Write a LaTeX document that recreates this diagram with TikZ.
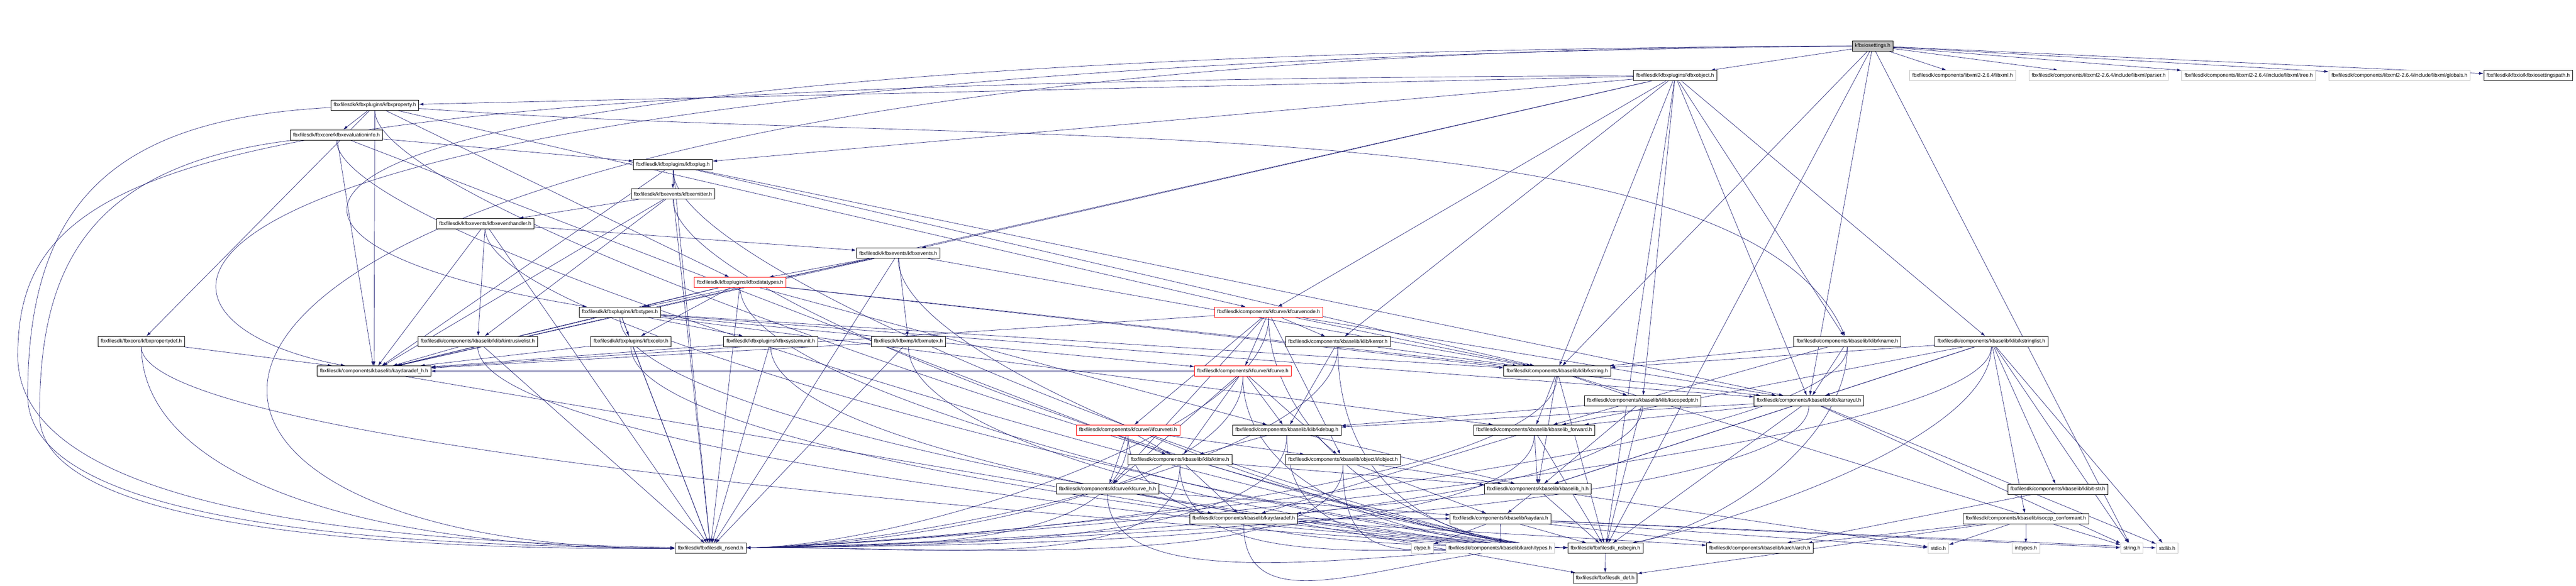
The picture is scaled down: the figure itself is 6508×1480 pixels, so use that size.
\documentclass[tikz,border=0pt]{standalone}
\usepackage{fontspec}
\setmainfont{Liberation Sans}
\usetikzlibrary{arrows.meta, backgrounds}
\definecolor{edgeblue}{HTML}{191970}
\definecolor{nodegray}{HTML}{BFBFBF}

\begin{document}
\begin{tikzpicture}[x=1pt, y=-1pt,
	hdr/.style={draw, rectangle, fill=white, line width=1pt, minimum height=26pt,
		inner xsep=7pt, inner ysep=0pt, font=\fontsize{13}{15}\selectfont},
	trunc/.style={hdr, draw=red},
	sysfile/.style={hdr, draw=nodegray},
	mainfile/.style={hdr, fill=nodegray},
	incl/.style={->, >={Latex[length=11pt,width=7pt]}, color=edgeblue, line width=0.9pt}]

	\path[use as bounding box] (0,0) rectangle (6508,1480);

	% top rows
	\node[mainfile] (settings) at (4731,116) {kfbxiosettings.h};
	\node[hdr] (object)   at (4232,191) {fbxfilesdk/kfbxplugins/kfbxobject.h};
	\node[sysfile] (libxml) at (4958,191) {fbxfilesdk/components/libxml2-2.6.4/libxml.h};
	\node[sysfile] (parser) at (5302,191) {fbxfilesdk/components/libxml2-2.6.4/include/libxml/parser.h};
	\node[sysfile] (tree)   at (5681,191) {fbxfilesdk/components/libxml2-2.6.4/include/libxml/tree.h};
	\node[sysfile] (globals) at (6062,191) {fbxfilesdk/components/libxml2-2.6.4/include/libxml/globals.h};
	\node[hdr] (settingspath) at (6387,191) {fbxfilesdk/kfbxio/kfbxiosettingspath.h};

	\node[hdr] (property) at (947,266)  {fbxfilesdk/kfbxplugins/kfbxproperty.h};
	\node[hdr] (evalinfo) at (850,341)  {fbxfilesdk/fbxcore/kfbxevaluationinfo.h};
	\node[hdr] (plug)     at (1700,416) {fbxfilesdk/kfbxplugins/kfbxplug.h};
	\node[hdr] (emitter)  at (1700,490) {fbxfilesdk/kfbxevents/kfbxemitter.h};
	\node[hdr] (evhandler) at (1226,565) {fbxfilesdk/kfbxevents/kfbxeventhandler.h};
	\node[hdr] (events)   at (2269,640) {fbxfilesdk/kfbxevents/kfbxevents.h};
	\node[trunc] (datatypes) at (1870,714) {fbxfilesdk/kfbxplugins/kfbxdatatypes.h};
	\node[hdr] (types)    at (1566,789) {fbxfilesdk/kfbxplugins/kfbxtypes.h};
	\node[trunc] (curvenode) at (3205,789) {fbxfilesdk/components/kfcurve/kfcurvenode.h};

	% middle rows
	\node[hdr] (propdef)   at (357,863)  {fbxfilesdk/fbxcore/kfbxpropertydef.h};
	\node[hdr] (intrusive) at (1207,863) {fbxfilesdk/components/kbaselib/klib/kintrusivelist.h};
	\node[hdr] (kcolor)    at (1594,863) {fbxfilesdk/kfbxplugins/kfbxcolor.h};
	\node[hdr] (sysunit)   at (1947,863) {fbxfilesdk/kfbxplugins/kfbxsystemunit.h};
	\node[hdr] (mutex)     at (2295,863) {fbxfilesdk/kfbxmp/kfbxmutex.h};
	\node[hdr] (kerror)    at (3380,864) {fbxfilesdk/components/kbaselib/klib/kerror.h};
	\node[hdr] (kname)     at (4667,863) {fbxfilesdk/components/kbaselib/klib/kname.h};
	\node[hdr] (kstringlist) at (5031,863) {fbxfilesdk/components/kbaselib/klib/kstringlist.h};
	\node[hdr] (kaydaradefh) at (945,938) {fbxfilesdk/components/kbaselib/kaydaradef\_h.h};
	\node[trunc] (kfcurve) at (3140,938) {fbxfilesdk/components/kfcurve/kfcurve.h};
	\node[hdr] (kstring)   at (3934,938) {fbxfilesdk/components/kbaselib/klib/kstring.h};
	\node[hdr] (kscopedptr) at (4150,1013) {fbxfilesdk/components/kbaselib/klib/kscopedptr.h};
	\node[hdr] (karrayul)  at (4570,1013) {fbxfilesdk/components/kbaselib/klib/karrayul.h};
	\node[trunc] (ifcurveeti) at (2850,1087) {fbxfilesdk/components/kfcurve/i/ifcurveeti.h};
	\node[hdr] (kdebug)    at (3251,1087) {fbxfilesdk/components/kbaselib/klib/kdebug.h};
	\node[hdr] (forward)   at (3876,1087) {fbxfilesdk/components/kbaselib/kbaselib\_forward.h};
	\node[hdr] (ktime)     at (2981,1162) {fbxfilesdk/components/kbaselib/klib/ktime.h};
	\node[hdr] (iobject)   at (3393,1162) {fbxfilesdk/components/kbaselib/object/i/iobject.h};
	\node[hdr] (kfcurveh)  at (2798,1236) {fbxfilesdk/components/kfcurve/kfcurve\_h.h};
	\node[hdr] (kbaselibh) at (3885,1236) {fbxfilesdk/components/kbaselib/kbaselib\_h.h};
	\node[hdr] (tstr)      at (5199,1237) {fbxfilesdk/components/kbaselib/klib/t-str.h};
	\node[hdr] (kaydaradef) at (3142,1311) {fbxfilesdk/components/kbaselib/kaydaradef.h};
	\node[hdr] (kaydara)   at (3791,1311) {fbxfilesdk/components/kbaselib/kaydara.h};
	\node[hdr] (isocpp)    at (5118,1311) {fbxfilesdk/components/kbaselib/isocpp\_conformant.h};

	% bottom rows
	\node[hdr] (nsend)     at (1795,1386) {fbxfilesdk/fbxfilesdk\_nsend.h};
	\node[sysfile] (ctype) at (3593,1386) {ctype.h};
	\node[sysfile] (archtypes) at (3790,1386) {fbxfilesdk/components/kbaselib/karch/types.h};
	\node[hdr] (nsbegin)   at (4056,1386) {fbxfilesdk/fbxfilesdk\_nsbegin.h};
	\node[hdr] (arch)      at (4446,1386) {fbxfilesdk/components/kbaselib/karch/arch.h};
	\node[sysfile] (stdio) at (4897,1386) {stdio.h};
	\node[sysfile] (inttypes) at (5118,1386) {inttypes.h};
	\node[sysfile] (stringh) at (5386,1386) {string.h};
	\node[sysfile] (stdlib) at (5475,1386) {stdlib.h};
	\node[hdr] (filesdkdef) at (4055,1461) {fbxfilesdk/fbxfilesdk\_def.h};

	\begin{scope}[on background layer]
	\foreach \t in {object,libxml,parser,tree,globals,settingspath,kstring,karrayul,nsbegin,stringh}
		\draw[incl] (settings) -- (\t);
	\draw[incl] (settings) .. controls (20,125) and (20,1386) .. (nsend);
	\draw[incl] (settings) .. controls (400,135) and (400,600) .. (types);
	\draw[incl] (settings) .. controls (200,160) and (200,800) .. (kaydaradefh);

	\foreach \t in {property,plug,kaydaradefh,events,curvenode,kerror,kstring,kscopedptr,karrayul,kname,kstringlist,nsbegin}
		\draw[incl] (object) -- (\t);
	\draw[incl] (object) .. controls (500,205) and (45,400) .. (45,900) .. controls (45,1300) and (1000,1370) .. (nsend);
	\foreach \t in {evalinfo,propdef,datatypes,curvenode,kaydaradefh}
		\draw[incl] (property) -- (\t);
	\draw[incl] (property) .. controls (2500,380) and (4400,250) .. (kname);
	\draw[incl] (property) .. controls (300,300) and (70,500) .. (70,1000) .. controls (70,1330) and (1000,1380) .. (nsend);
	\foreach \t in {plug,kaydaradefh,ktime}
		\draw[incl] (evalinfo) -- (\t);
	\draw[incl] (evalinfo) .. controls (200,420) and (100,700) .. (100,1050) .. controls (100,1340) and (1000,1390) .. (nsend);
	\draw[incl] (propdef) .. controls (360,1200) and (900,1386) .. (nsend);
	\foreach \t in {emitter,kaydaradefh,karrayul,kstring}
		\draw[incl] (plug) -- (\t);
	\foreach \t in {evhandler,intrusive,kaydaradefh}
		\draw[incl] (emitter) -- (\t);
	\foreach \t in {events,intrusive,kaydaradefh}
		\draw[incl] (evhandler) -- (\t);
	\foreach \t in {datatypes,types,mutex,kaydaradefh,kstring}
		\draw[incl] (events) -- (\t);
	\foreach \t in {types,kcolor,kaydaradefh,kdebug,kstring,karrayul}
		\draw[incl] (datatypes) -- (\t);
	\foreach \t in {kcolor,sysunit,kaydaradefh,kfcurve,kstring,karrayul,forward}
		\draw[incl] (types) -- (\t);
	\foreach \t in {kerror,kfcurve,ifcurveeti,kfcurveh,iobject,kstring,karrayul,kaydaradefh}
		\draw[incl] (curvenode) -- (\t);
	\foreach \t in {ktime,kdebug,iobject,kfcurveh,kaydaradefh}
		\draw[incl] (kfcurve) -- (\t);
	\foreach \t in {ktime,kfcurveh,iobject}
		\draw[incl] (ifcurveeti) -- (\t);
	\foreach \s in {intrusive,kcolor,sysunit,mutex}
		\draw[incl] (\s) -- (kaydaradefh);
	\draw[incl] (propdef) -- (kaydaradefh);
	\foreach \t in {kstring,kdebug}
		\draw[incl] (kerror) -- (\t);
	\foreach \t in {kstring,karrayul,forward}
		\draw[incl] (kname) -- (\t);
	\foreach \t in {kstring,karrayul,forward,kbaselibh,tstr,isocpp,stringh,stdlib}
		\draw[incl] (kstringlist) -- (\t);
	\foreach \t in {kscopedptr,forward,kbaselibh,stringh,nsbegin}
		\draw[incl] (kstring) -- (\t);
	\foreach \t in {kdebug,kbaselibh,nsbegin}
		\draw[incl] (kscopedptr) -- (\t);
	\foreach \t in {kdebug,forward,kbaselibh,stringh,stdlib,nsbegin}
		\draw[incl] (karrayul) -- (\t);
	\foreach \t in {ktime,kbaselibh}
		\draw[incl] (kdebug) -- (\t);
	\foreach \t in {kbaselibh,kaydaradef,nsbegin}
		\draw[incl] (forward) -- (\t);
	\foreach \t in {kbaselibh,kaydaradef}
		\draw[incl] (ktime) -- (\t);
	\foreach \t in {kbaselibh,kaydara}
		\draw[incl] (iobject) -- (\t);
	\foreach \t in {kaydara,filesdkdef}
		\draw[incl] (kfcurveh) -- (\t);
	\foreach \t in {kaydara,kaydaradef,stdio,nsbegin}
		\draw[incl] (kbaselibh) -- (\t);
	\draw[incl] (tstr) -- (arch);
	\draw[incl] (kaydaradefh) -- (kaydaradef);
	\foreach \t in {kaydara,arch}
		\draw[incl] (kaydaradef) -- (\t);
	\foreach \t in {ctype,archtypes,nsbegin,arch,stdio,stringh,stdlib}
		\draw[incl] (kaydara) -- (\t);
	\foreach \t in {arch,stdio,inttypes,filesdkdef}
		\draw[incl] (isocpp) -- (\t);
	\draw[incl] (nsbegin) -- (filesdkdef);

	% bundles into the namespace headers
	\foreach \s in {plug,emitter,evhandler,events,datatypes,types,intrusive,kcolor,sysunit,mutex}
		\draw[incl] (\s) -- (nsend);
	\foreach \s in {curvenode,kfcurve,ifcurveeti,kerror,kname,kstringlist,kstring,kscopedptr,karrayul,kdebug,forward,ktime,iobject}
		\draw[incl] (\s) .. controls +(0,300) and +(500,-8) .. (nsend);
	\foreach \s in {property,evalinfo,plug,emitter,evhandler,events,datatypes,types,propdef,intrusive,kcolor,sysunit,mutex,curvenode,kfcurve,ifcurveeti,kerror,kdebug,ktime,iobject,kfcurveh,kaydaradef}
		\draw[incl] (\s) .. controls +(0,300) and +(-500,-8) .. (nsbegin);
	\foreach \s in {kname,kstringlist}
		\draw[incl] (\s) .. controls +(0,250) and +(300,-60) .. (nsbegin);
	\end{scope}
\end{tikzpicture}
\end{document}
